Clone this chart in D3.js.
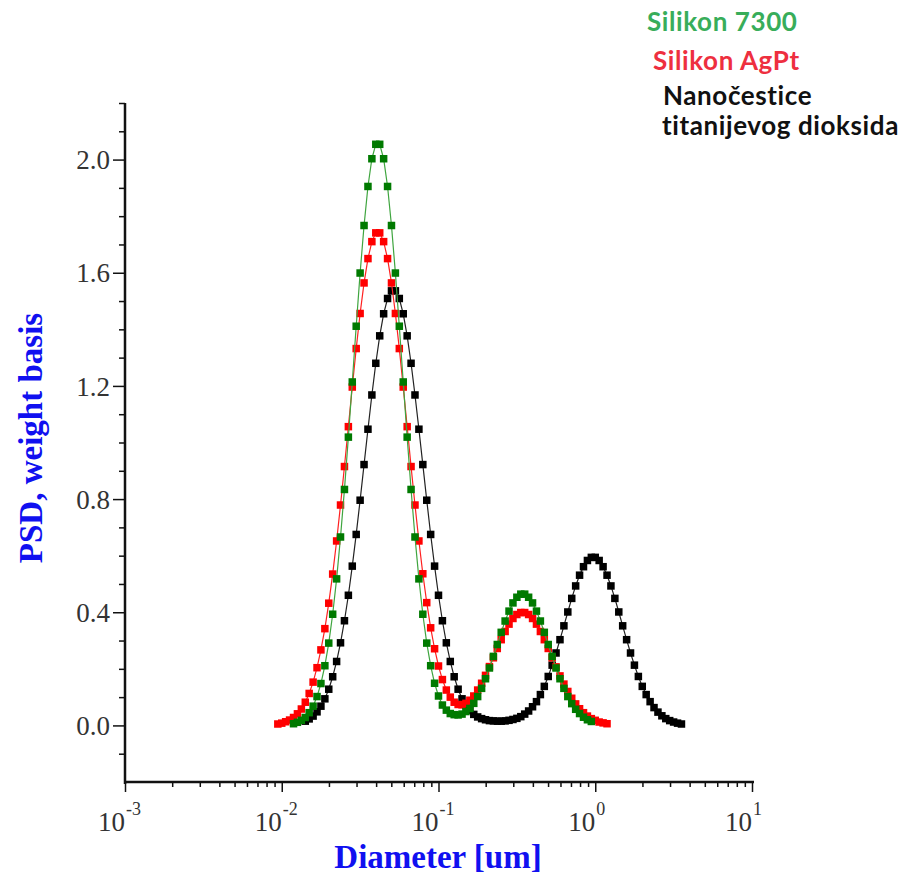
<!DOCTYPE html>
<html>
<head>
<meta charset="utf-8">
<script src="https://cdn.jsdelivr.net/npm/d3@7"></script>
<style>
	body { margin: 0; background: #fff; }
	svg { display: block; }
</style>
</head>
<body>
<svg id="chart" width="911" height="877"></svg>
<script>
// size classes of the analyser, um (log grid)
const diameters = [0.00944,
	0.0100, 0.01059, 0.01122, 0.01189, 0.01259, 0.01334, 0.01413, 0.01496, 0.01585, 0.01679,
	0.01778, 0.01884, 0.01995, 0.02113, 0.02239, 0.02371, 0.02512, 0.02661, 0.02818, 0.02985,
	0.03162, 0.03350, 0.03548, 0.03758, 0.03981, 0.04217, 0.04467, 0.04732, 0.05012, 0.05309,
	0.05623, 0.05957, 0.06310, 0.06683, 0.07079, 0.07499, 0.07943, 0.08414, 0.08913, 0.09441,
	0.1000, 0.1059, 0.1122, 0.1189, 0.1259, 0.1334, 0.1413, 0.1496, 0.1585, 0.1679,
	0.1778, 0.1884, 0.1995, 0.2113, 0.2239, 0.2371, 0.2512, 0.2661, 0.2818, 0.2985,
	0.3162, 0.3350, 0.3548, 0.3758, 0.3981, 0.4217, 0.4467, 0.4732, 0.5012, 0.5309,
	0.5623, 0.5957, 0.6310, 0.6683, 0.7079, 0.7499, 0.7943, 0.8414, 0.8913, 0.9441,
	1.000, 1.059, 1.122, 1.189, 1.259, 1.334, 1.413, 1.496, 1.585, 1.679,
	1.778, 1.884, 1.995, 2.113, 2.239, 2.371, 2.512, 2.661, 2.818, 2.985,
	3.162, 3.350, 3.548];

// PSD, weight basis (null = no point in that class)
const silikonAgPt = [
	0.005, 0.008, 0.013, 0.019, 0.028, 0.041, 0.058, 0.082, 0.113, 0.153,
	0.204, 0.267, 0.342, 0.432, 0.535, 0.652, 0.779, 0.915, 1.056, 1.196,
	1.332, 1.456, 1.564, 1.650, 1.710, 1.741, 1.741, 1.710, 1.650, 1.564,
	1.456, 1.332, 1.196, 1.056, 0.915, 0.779, 0.652, 0.536, 0.434, 0.345,
	0.271, 0.210, 0.162, 0.125, 0.100, 0.082, 0.074, 0.073, 0.078, 0.089,
	0.104, 0.125, 0.149, 0.177, 0.208, 0.239, 0.272, 0.303, 0.332, 0.358,
	0.378, 0.392, 0.399, 0.399, 0.392, 0.378, 0.358, 0.332, 0.303, 0.272,
	0.239, 0.207, 0.175, 0.146, 0.120, 0.096, 0.076, 0.059, 0.045, 0.033,
	0.024, 0.018, 0.012, 0.009, 0.006, null, null, null, null, null,
	null, null, null, null, null, null, null, null, null, null,
	null, null, null, null];

const silikon7300 = [
	null, null, null, null, 0.006, 0.011, 0.018, 0.028, 0.045, 0.068,
	0.102, 0.148, 0.211, 0.291, 0.393, 0.518, 0.666, 0.834, 1.019, 1.214,
	1.411, 1.599, 1.767, 1.905, 2.003, 2.054, 2.054, 2.003, 1.905, 1.767,
	1.599, 1.411, 1.214, 1.019, 0.834, 0.666, 0.518, 0.393, 0.291, 0.211,
	0.149, 0.104, 0.072, 0.054, 0.042, 0.038, 0.037, 0.040, 0.049, 0.060,
	0.078, 0.102, 0.131, 0.165, 0.203, 0.244, 0.286, 0.329, 0.369, 0.404,
	0.433, 0.453, 0.464, 0.464, 0.453, 0.433, 0.404, 0.369, 0.329, 0.286,
	0.244, 0.203, 0.165, 0.131, 0.102, 0.077, 0.057, 0.042, 0.029, 0.020,
	0.014, null, null, null, null, null, null, null, null, null,
	null, null, null, null, null, null, null, null, null, null,
	null, null, null, null];

const nanoTiO2 = [
	null, null, null, null, null, null, null, 0.015, 0.023, 0.033,
	0.048, 0.068, 0.094, 0.128, 0.172, 0.226, 0.292, 0.370, 0.460, 0.563,
	0.675, 0.796, 0.922, 1.047, 1.168, 1.280, 1.377, 1.455, 1.509, 1.536,
	1.536, 1.509, 1.455, 1.377, 1.280, 1.168, 1.047, 0.922, 0.796, 0.675,
	0.563, 0.460, 0.370, 0.292, 0.226, 0.172, 0.128, 0.094, 0.072, 0.053,
	0.039, 0.030, 0.024, 0.020, 0.017, 0.016, 0.015, 0.015, 0.016, 0.018,
	0.021, 0.025, 0.031, 0.040, 0.051, 0.066, 0.084, 0.109, 0.138, 0.173,
	0.213, 0.256, 0.303, 0.352, 0.401, 0.449, 0.493, 0.531, 0.561, 0.583,
	0.594, 0.594, 0.583, 0.561, 0.531, 0.493, 0.449, 0.401, 0.352, 0.303,
	0.256, 0.213, 0.173, 0.138, 0.109, 0.084, 0.063, 0.047, 0.034, 0.024,
	0.017, 0.012, 0.008, 0.005];

const xMajor = [1e-3, 1e-2, 1e-1, 1, 10];
const xExponents = ["-3", "-2", "-1", "0", "1"];
const yMajor = [0, 0.4, 0.8, 1.2, 1.6, 2.0];
const legendLabels = ["Silikon 7300", "Silikon AgPt", "Nanočestice", "titanijevog dioksida"];
const xTitle = "Diameter [um]";
const yTitle = "PSD, weight basis";

var svg = d3.select("#chart");
var serif = "'Liberation Serif', 'Times New Roman', serif";

var x = d3.scaleLog().domain([1e-3, 1e1]).range([125, 752]),
	y = d3.scaleLinear().domain([-0.2, 2.2]).range([782, 103]);

var xMinor = [];
xMajor.slice(0, -1).forEach(p => {
	for (let m = 2; m < 10; m++) xMinor.push(p * m);
});
var yMinor = d3.range(-1, 23).map(k => k / 10)
	.filter(v => Math.abs(v / 0.4 - Math.round(v / 0.4)) > 0.01);

// x axis
var xAxisMinor = svg.append("g").attr("transform", "translate(0,782)")
	.call(d3.axisBottom(x).tickValues(xMinor).tickSize(5).tickSizeOuter(0).tickFormat(""));
var xAxisMajor = svg.append("g").attr("transform", "translate(0,782)")
	.call(d3.axisBottom(x).tickValues(xMajor).tickSize(10).tickSizeOuter(0).tickFormat(""));

// y axis
var yAxisMinor = svg.append("g").attr("transform", "translate(125,0)")
	.call(d3.axisLeft(y).tickValues(yMinor).tickSize(6).tickSizeOuter(0).tickFormat(""));
var yAxisMajor = svg.append("g").attr("transform", "translate(125,0)")
	.call(d3.axisLeft(y).tickValues(yMajor).tickSize(12).tickSizeOuter(0).tickPadding(3)
		.tickFormat(d3.format(".1f")));

svg.selectAll(".domain").remove();
svg.selectAll(".tick line").attr("stroke", "#111").attr("stroke-width", 1.5);
yAxisMajor.selectAll("text")
	.attr("font-family", serif)
	.attr("font-size", 27)
	.attr("fill", "#333")
	.attr("dy", "0.34em");

svg.append("line")
	.attr("x1", 125).attr("x2", 125)
	.attr("y1", y(2.2)).attr("y2", y(-0.2) + 2)
	.attr("stroke", "#111").attr("stroke-width", 2.5);
svg.append("line")
	.attr("x1", 124).attr("x2", x(10) + 2)
	.attr("y1", y(-0.2)).attr("y2", y(-0.2))
	.attr("stroke", "#111").attr("stroke-width", 2.5);

// 10^n labels: "10" ends at the tick, exponent follows
xMajor.forEach((v, i) => {
	svg.append("text")
		.attr("x", x(v)).attr("y", 831)
		.attr("text-anchor", "end")
		.attr("font-family", serif).attr("font-size", 27).attr("fill", "#333")
		.text("10");
	svg.append("text")
		.attr("x", x(v) + 1).attr("y", 815)
		.attr("font-family", serif).attr("font-size", 18).attr("fill", "#333")
		.text(xExponents[i]);
});

// titles
svg.append("text")
	.attr("x", 438).attr("y", 868)
	.attr("text-anchor", "middle")
	.attr("font-family", serif).attr("font-weight", "bold").attr("font-size", 33)
	.attr("fill", "#1010f0")
	.text(xTitle);
svg.append("text")
	.attr("transform", "translate(42,438) rotate(-90)")
	.attr("text-anchor", "middle")
	.attr("font-family", serif).attr("font-weight", "bold").attr("font-size", 33)
	.attr("fill", "#1010f0")
	.text(yTitle);

// series, black first so green sits on top
var series = [
	{values: nanoTiO2, color: "#000000", line: "#222222"},
	{values: silikonAgPt, color: "#ff0000", line: "#ff2020"},
	{values: silikon7300, color: "#007a00", line: "#3fa53f"}
];

var line = d3.line()
	.x(p => x(p.d))
	.y(p => y(p.v));

series.forEach(s => {
	var pts = diameters.map((d, i) => ({d: d, v: s.values[i]})).filter(p => p.v != null);
	var g = svg.append("g");
	g.append("path")
		.datum(pts)
		.attr("d", line)
		.attr("fill", "none")
		.attr("stroke", s.line)
		.attr("stroke-width", 1.2);
	g.selectAll("rect")
		.data(pts)
		.join("rect")
		.attr("x", p => x(p.d) - 3.75)
		.attr("y", p => y(p.v) - 3.75)
		.attr("width", 7.5)
		.attr("height", 7.5)
		.attr("fill", s.color);
});

// legend (plain coloured text)
var legend = [
	{text: legendLabels[0], x: 647, y: 31, color: "#38ad5a"},
	{text: legendLabels[1], x: 653, y: 70, color: "#ee2f3f"},
	{text: legendLabels[2], x: 663, y: 105, color: "#111111"},
	{text: legendLabels[3], x: 662, y: 135, color: "#111111"}
];
svg.selectAll(".legend")
	.data(legend)
	.join("text")
	.attr("class", "legend")
	.attr("x", d => d.x)
	.attr("y", d => d.y)
	.attr("font-family", "Lato, 'Open Sans', sans-serif")
	.attr("font-weight", "bold")
	.attr("font-size", 26)
	.attr("letter-spacing", 0.6)
	.attr("fill", d => d.color)
	.text(d => d.text);
</script>
</body>
</html>
